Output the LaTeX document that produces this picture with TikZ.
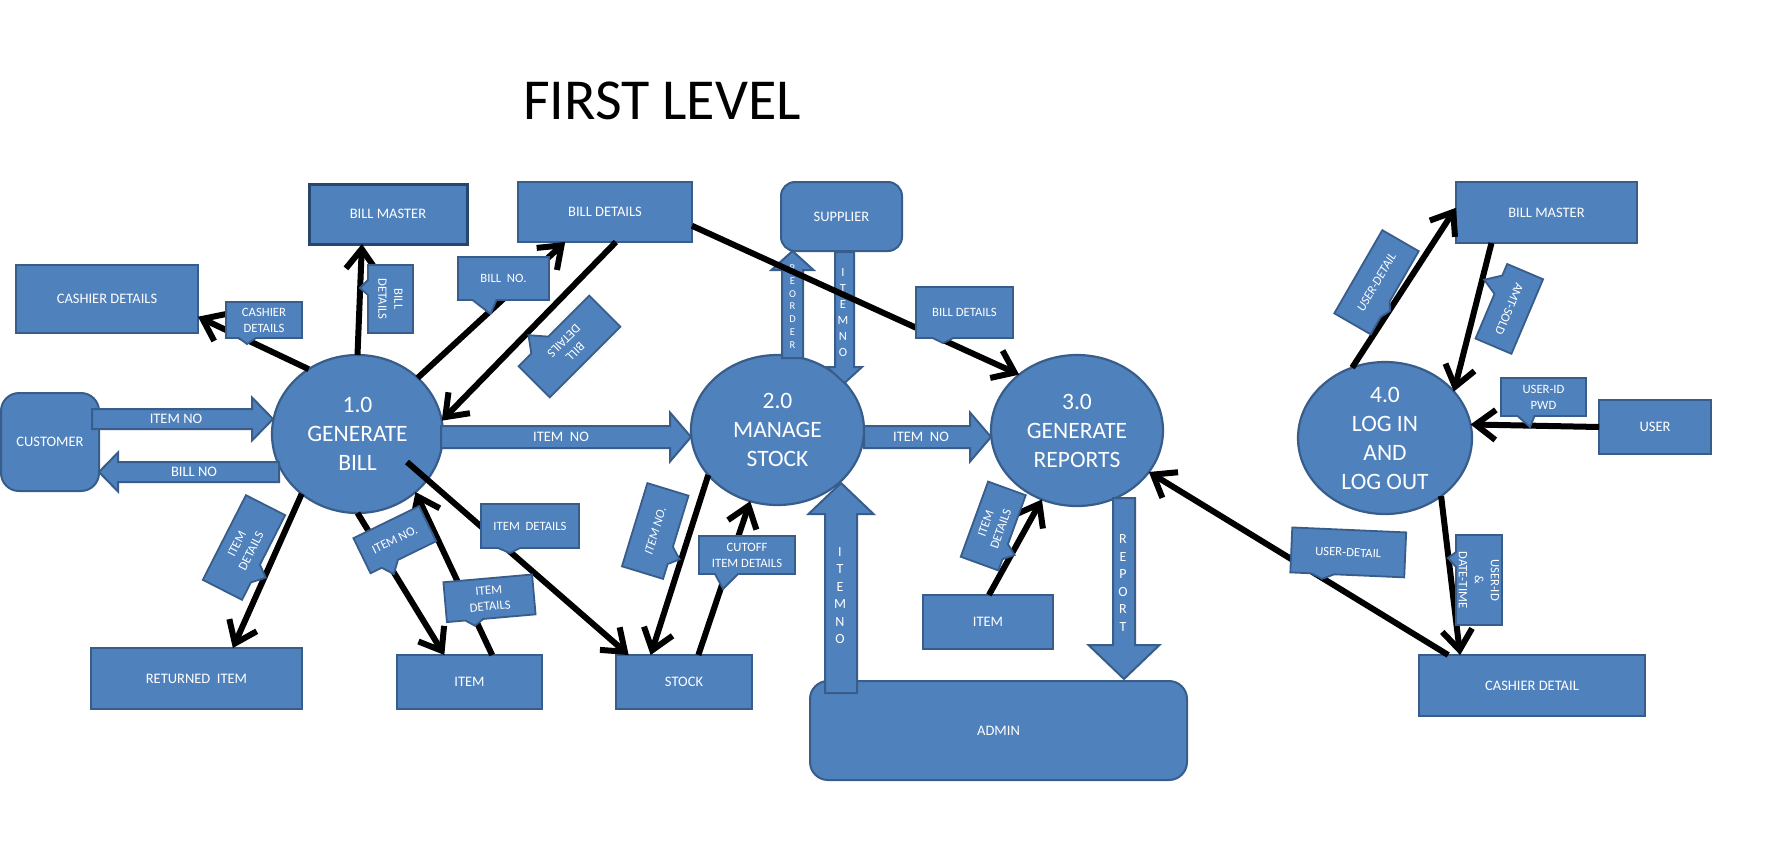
\documentclass[tikz,border=0pt]{standalone}
\usepackage{fontspec}
\setmainfont{Carlito}
\usetikzlibrary{arrows.meta,shapes.geometric}

\definecolor{dfdfill}{HTML}{4F81BD}
\definecolor{dfdline}{HTML}{385D8A}
\definecolor{dfddark}{HTML}{27466E}

% data label with a wedge pointer on its lower edge
% #1 name, #2 centre, #3 angle, #4 half width, #5 half height,
% #6 pointer base left, #7 pointer base right, #8 pointer tip, #9 text
\newcommand{\dfdtag}[9]{%
  \begin{scope}[shift={(#2)},rotate=#3]
    \path[flowtag] (-#4,-#5) -- (#4,-#5) -- (#4,#5) -- (#7,#5) -- (#8) -- (#6,#5) -- (-#4,#5) -- cycle;
    \node[tagtext,transform shape] (#1) at (0,0) {#9};
  \end{scope}}

\tikzset{
  store/.style={rectangle, draw=dfdline, fill=dfdfill, line width=2pt, text=white,
    inner sep=0pt, outer sep=0pt, font=\fontsize{14.5}{17}\selectfont},
  entity/.style={store, rounded corners=#1},
  process/.style={ellipse, draw=dfdline, fill=dfdfill, line width=2.2pt, text=white,
    inner sep=0pt, outer sep=0pt, align=center, font=\fontsize{23.5}{29}\selectfont},
  dataflow/.style={draw=black, line width=6pt, -{Straight Barb[length=20pt,width=30pt]}},
  bigflow/.style={draw=dfdline, fill=dfdfill, line width=2pt, line join=miter},
  flowtext/.style={text=white, inner sep=0pt, font=\fontsize{14.5}{17}\selectfont},
  stacktext/.style={text=white, inner sep=0pt, align=center},
  flowtag/.style={draw=dfdline, fill=dfdfill, line width=1.8pt, line join=miter},
  tagtext/.style={text=white, inner sep=0pt, align=center, font=\fontsize{12.7}{16}\selectfont},
}

\begin{document}
\begin{tikzpicture}[x=1pt,y=-1pt]
\fill[white] (0,0) rectangle (1778,855);
\useasboundingbox (0,0) rectangle (1778,855);

\node[font=\fontsize{58}{70}\selectfont, inner sep=0pt] (title) at (662,100.5) {FIRST LEVEL};

% stores and external entities
\node[store, minimum width=158pt, minimum height=60pt, draw=dfddark, line width=3pt] (bm1) at (388,214) {BILL MASTER};
\node[store, minimum width=174pt, minimum height=60pt] (bd) at (605,212) {BILL DETAILS};
\node[store, minimum width=182pt, minimum height=68pt] (cd) at (107,299) {CASHIER DETAILS};
\node[entity=18pt, minimum width=98pt, minimum height=98pt] (cu) at (50,442) {CUSTOMER};
\node[store, minimum width=211pt, minimum height=61pt] (ri) at (196.5,678.5) {RETURNED\ \ ITEM};
\node[store, minimum width=145pt, minimum height=54pt] (it1) at (469.5,682) {ITEM};
\node[store, minimum width=136pt, minimum height=54pt] (st) at (684,682) {STOCK};
\node[entity=14pt, minimum width=121pt, minimum height=69pt] (su) at (841.5,216.5) {SUPPLIER};
\node[store, minimum width=130pt, minimum height=54pt] (it2) at (988,622) {ITEM};
\node[entity=18pt, minimum width=377pt, minimum height=99pt] (ad) at (998.5,730.5) {ADMIN};
\node[store, minimum width=181pt, minimum height=61pt] (bm2) at (1546.5,212.5) {BILL MASTER};
\node[store, minimum width=112pt, minimum height=54pt] (us) at (1655,427) {USER};
\node[store, minimum width=226pt, minimum height=61pt] (cd2) at (1532,685.5) {CASHIER DETAIL};

% processes
\node[process, minimum width=171pt, minimum height=158pt] (p1) at (357.5,434) {1.0\\GENERATE\\BILL};
\node[process, minimum width=173pt, minimum height=150pt] (p2) at (777.5,430) {2.0\\MANAGE\\STOCK};
\node[process, minimum width=172pt, minimum height=151pt] (p3) at (1077,430.5) {3.0\\GENERATE\\REPORTS};
\node[process, minimum width=174pt, minimum height=152pt] (p4) at (1385,438) {4.0\\LOG IN\\AND\\LOG OUT};

% block arrows
\path[bigflow] (92,409) -- (252,409) -- (252,397.5) -- (273,419) -- (252,440.5) -- (252,429) -- (92,429) -- cycle;
\path[bigflow] (279,462) -- (118,462) -- (118,452.5) -- (99,472) -- (118,491.5) -- (118,482) -- (279,482) -- cycle;
\path[bigflow] (441,426) -- (670,426) -- (670,412.5) -- (691,437) -- (670,461.5) -- (670,448) -- (441,448) -- cycle;
\path[bigflow] (864,426) -- (970,426) -- (970,412.5) -- (991,437) -- (970,461.5) -- (970,448) -- (864,448) -- cycle;
\path[bigflow] (782,358) -- (782,270) -- (771.5,270) -- (792.5,251) -- (813.5,270) -- (803,270) -- (803,358) -- cycle;
\path[bigflow] (835,252) -- (835,367) -- (827,367) -- (844.5,383) -- (862,367) -- (854,367) -- (854,252) -- cycle;
\path[bigflow] (825,693) -- (825,514) -- (808.5,514) -- (841,483) -- (873.5,514) -- (857,514) -- (857,693) -- cycle;
\path[bigflow] (1113,498) -- (1113,645) -- (1088.5,645) -- (1124,679) -- (1159.5,645) -- (1135,645) -- (1135,498) -- cycle;

\node[flowtext] (fA) at (176,419) {ITEM NO};
\node[flowtext] (fB) at (194,472) {BILL NO};
\node[flowtext] (fC) at (561,437) {ITEM\ \ NO};
\node[flowtext] (fD) at (921,437) {ITEM\ \ NO};
\node[stacktext, font=\fontsize{10.5}{12.8}\selectfont] (reorder) at (792.5,306.5) {R\\E\\O\\R\\D\\E\\R};
\node[stacktext, font=\fontsize{12.5}{16}\selectfont] (itemnoA) at (843,313) {I\\T\\E\\M\\N\\O};
\node[stacktext, font=\fontsize{14}{17.4}\selectfont] (itemnoB) at (840,595.5) {I\\T\\E\\M\\N\\O};
\node[stacktext, font=\fontsize{14}{17.6}\selectfont] (report) at (1123,583) {R\\E\\P\\O\\R\\T};

% data flows
\coordinate (bi) at (407,462);
\draw[dataflow] (p1.127.7) -- (cd.-11.8);
\draw[dataflow] (p1.90) -- (bm1.229);
\draw[dataflow] (p1.43.3) -- (bd.217.3);
\draw[dataflow] (bd.-70.5) -- (p1.9.1);
\draw[dataflow] (bd.-9.8) -- (p3.136.3);
\draw[dataflow] (p1.-133.8) -- (ri.40.9);
\draw[dataflow] (p1.-90) -- (it1.133.5);
\draw[dataflow] (it1.50.2) -- (p1.-45.7);
\draw[dataflow] (bi) -- (st.154.9);
\draw[dataflow] (p2.213.3) -- (st.141.9);
\draw[dataflow] (st.62.6) -- (p2.249.7);
\draw[dataflow] (it2.88) -- (p3.243.9);
\draw[dataflow] (cd2.160.4) -- (p3.-30.5);
\draw[dataflow] (p4.115.2) -- (bm2.177.2);
\draw[dataflow] (bm2.209.7) -- (p4.34.8);
\draw[dataflow] (us.west) -- (p4.9.6);
\draw[dataflow] (p4.-46.4) -- (cd2.157.7);

% flow labels
\dfdtag{t1}{264,320}{0}{38}{18}{-25}{-8}{-17,24}{CASHIER\\DETAILS}
\dfdtag{t2}{390.5,299}{-90}{34}{22.5}{-19}{-4}{-11,30.5}{BILL\\DETAILS}
\dfdtag{t3}{503.5,278.5}{0}{45.5}{21.5}{-31}{-7}{-13,35.5}{BILL\ \ NO.}
\dfdtag{t4}{569.5,346.5}{225}{50}{22}{8}{32}{21,37}{BILL\\DETAILS}
\dfdtag{t5}{244,547.5}{63}{47.5}{22}{-28}{-8}{-17,33}{ITEM\\DETAILS}
\dfdtag{t6}{394.8,539.7}{26}{36.5}{19.5}{-24}{-6}{-16,30.5}{ITEM NO.}
\dfdtag{t7}{530,526}{0}{49}{22}{-32}{-10}{-20,27}{ITEM\ \ DETAILS}
\dfdtag{t8}{489.5,598.3}{5}{44.5}{20}{-26}{-8}{-17,26}{ITEM\\DETAILS}
\dfdtag{t9}{655.25,531}{73}{43.5}{21.5}{-28}{-10}{-20,31.5}{\itshape ITEM NO.}
\dfdtag{t10}{747,555}{0}{48}{19}{-32}{-9}{-24,34}{CUTOFF\\ITEM DETAILS}
\dfdtag{t11}{964.5,312.5}{0}{48.5}{25.5}{-32}{-11}{-21.5,30.5}{BILL DETAILS}
\dfdtag{t12}{993.25,526}{70}{40}{20}{-28}{-12}{-20,30}{ITEM\\DETAILS}
\dfdtag{t13}{1376.5,282.25}{60}{48}{21}{-28}{-10}{-18,26}{\itshape USER-DETAIL}
\dfdtag{t14}{1509.3,308.9}{-113}{40.5}{19.5}{-28}{-8}{-17,34.5}{AMT-SOLD}
\dfdtag{t15}{1543.5,397}{0}{42.5}{19}{-26}{-9}{-13.5,30}{USER-ID\\PWD}
\dfdtag{t16}{1348.25,552.4}{-2.5}{57}{22.5}{-36}{-13}{-25,27.5}{USER-DETAIL}
\dfdtag{t17}{1479,580}{-90}{45}{23}{-28}{-13}{-22,31}{USER-ID\\\&\\DATE-TIME}
\end{tikzpicture}
\end{document}
